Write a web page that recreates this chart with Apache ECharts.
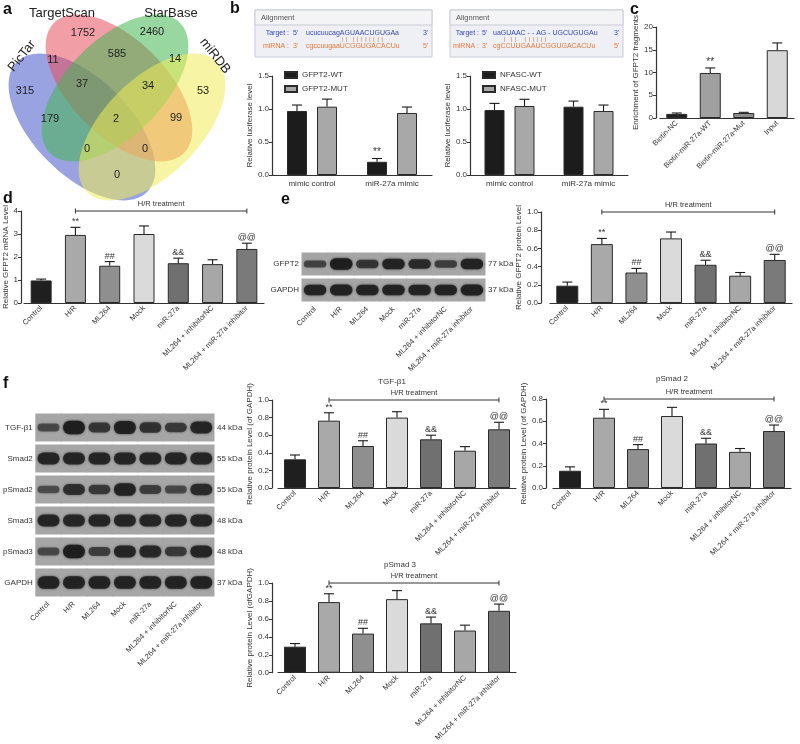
<!DOCTYPE html>
<html><head><meta charset="utf-8">
<script src="https://cdn.jsdelivr.net/npm/echarts@6/dist/echarts.min.js"></script>
<style>html,body{margin:0;padding:0;background:#fff}#c{width:800px;height:744px}</style>
</head><body><div id="c"></div>
<script>
// ---------------- DATA ----------------
const vennSetNames = ['PicTar', 'TargetScan', 'StarBase', 'miRDB'];
const vennCounts = [315, 1752, 2460, 53, 11, 585, 14, 37, 34, 179, 2, 99, 0, 0, 0];

const align1Target = 'ucucuucagAGUAACUGUGAa';
const align1Mirna = 'cgccuugaaUCGGUGACACUu';
const align2Target = 'uaGUAAC - - AG - UGCUGUGAu';
const align2Mirna = 'cgCCUUGAAUCGGUGACACUu';

const lucCats = ['mimic control', 'miR-27a mimic'];
const gfpt2WT = [0.97, 0.20];
const gfpt2WTErr = [1.06, 0.25];
const gfpt2MUT = [1.035, 0.94];
const gfpt2MUTErr = [1.15, 1.03];
const nfascWT = [0.985, 1.035];
const nfascWTErr = [1.085, 1.12];
const nfascMUT = [1.045, 0.97];
const nfascMUTErr = [1.147, 1.06];
const lucMarksWT = ['', '**'];

const pullCats = ['Biotin-NC', 'Biotin-miR-27a-WT', 'Biotin-miR-27a-Mut', 'Input'];
const pullVals = [0.9, 9.9, 1.1, 14.9];
const pullErr = [1.1, 11.0, 1.25, 16.5];
const pullMarks = ['', '**', '', ''];

const groups = ['Control', 'H/R', 'ML264', 'Mock', 'miR-27a', 'ML264 + inhibitorNC', 'ML264 + miR-27a inhibitor'];
const groupMarks = ['', '**', '##', '', '&&', '', '@@'];
const mrnaVals = [0.98, 2.96, 1.62, 3.0, 1.73, 1.69, 2.35];
const mrnaErr = [1.04, 3.29, 1.8, 3.35, 1.95, 1.88, 2.6];
const gfpt2Prot = [0.19, 0.647, 0.335, 0.71, 0.42, 0.30, 0.473];
const gfpt2ProtErr = [0.23, 0.71, 0.38, 0.78, 0.47, 0.335, 0.535];
const tgfVals = [0.326, 0.765, 0.477, 0.80, 0.553, 0.424, 0.667];
const tgfErr = [0.375, 0.855, 0.537, 0.867, 0.60, 0.47, 0.747];
const pSmad2Vals = [0.155, 0.632, 0.35, 0.647, 0.40, 0.325, 0.512];
const pSmad2Err = [0.19, 0.707, 0.39, 0.725, 0.447, 0.355, 0.566];
const pSmad3Vals = [0.29, 0.787, 0.436, 0.82, 0.55, 0.47, 0.69];
const pSmad3Err = [0.325, 0.88, 0.495, 0.915, 0.62, 0.53, 0.765];

const eBlotRows = ['GFPT2', 'GAPDH'];
const eBlotKDa = ['77 kDa', '37 kDa'];
const eGfpt2Bands = [0.45, 1.0, 0.6, 0.9, 0.75, 0.5, 0.9];
const eGapdhBands = [0.9, 0.92, 0.9, 0.9, 0.88, 0.9, 0.92];

const fBlotRows = ['TGF-β1', 'Smad2', 'pSmad2', 'Smad3', 'pSmad3', 'GAPDH'];
const fBlotKDa = ['44 kDa', '55 kDa', '55 kDa', '48 kDa', '48 kDa', '37 kDa'];
const fTgfBands = [0.4, 1.0, 0.6, 0.95, 0.65, 0.55, 0.85];
const fSmad2Bands = [0.85, 0.85, 0.85, 0.85, 0.85, 0.85, 0.85];
const fPSmad2Bands = [0.35, 0.7, 0.55, 0.9, 0.5, 0.4, 0.75];
const fSmad3Bands = [0.85, 0.82, 0.85, 0.85, 0.85, 0.85, 0.85];
const fPSmad3Bands = [0.4, 1.0, 0.5, 0.85, 0.8, 0.55, 0.85];
const fGapdhBands = [0.9, 0.9, 0.9, 0.9, 0.9, 0.9, 0.9];

// ---------------- STYLE / LAYOUT ----------------
const FONT = '"Liberation Sans", Arial, Helvetica, sans-serif';
const groupColors = ['#1f1f1f', '#a9a9a9', '#8f8f8f', '#dadada', '#707070', '#a7a7a7', '#7a7a7a'];
const pullColors = ['#1f1f1f', '#a0a0a0', '#8c8c8c', '#d8d8d8'];
const AX = '#333';

const grids = [], xAxes = [], yAxes = [], series = [], graphics = [];

function addGrid(pos) { grids.push(Object.assign({ containLabel: false }, pos)); return grids.length - 1; }

function valueChart(pos, cats, o) {
  const gi = addGrid(pos);
  xAxes.push({
    type: 'category', gridIndex: gi, data: cats,
    axisLine: { lineStyle: { color: AX, width: 1.2 } },
    axisTick: { alignWithLabel: true, length: 3, lineStyle: { color: AX, width: 1 } },
    axisLabel: { interval: 0, rotate: o.rotate || 0, fontSize: o.xFont || 7.5, color: AX, margin: o.xMargin || 4, fontFamily: FONT }
  });
  const yi = yAxes.length;
  yAxes.push({
    type: 'value', gridIndex: gi, min: o.min, max: o.max, interval: o.interval, offset: o.offset || 0,
    name: o.name, nameLocation: 'middle', nameGap: o.nameGap || 17, nameRotate: 90,
    nameTextStyle: { fontSize: 8, color: AX, fontFamily: FONT },
    axisLine: { show: true, lineStyle: { color: AX, width: 1.2 } },
    axisTick: { show: true, length: 3, lineStyle: { color: AX } },
    splitLine: { show: false },
    axisLabel: { fontSize: 8, color: AX, margin: 3, fontFamily: FONT, formatter: o.fmt }
  });
  return { xi: xAxes.length - 1, yi: yi };
}

function barSeries(ax, vals, colors, width, name) {
  return {
    type: 'bar', name: name, xAxisIndex: ax.xi, yAxisIndex: ax.yi, silent: true, animation: false,
    barWidth: width, barGap: '50%',
    itemStyle: { borderColor: '#2a2a2a', borderWidth: 1 },
    data: vals.map((v, i) => colors ? { value: v, itemStyle: { color: colors[i] } } : v)
  };
}

function errSeries(ax, vals, errs, marks, dx, capW, markSize) {
  return {
    type: 'custom', xAxisIndex: ax.xi, yAxisIndex: ax.yi, z: 10, silent: true, animation: false,
    data: vals.map((v, i) => [i, v, errs[i]]), encode: { x: 0, y: [1, 2] },
    renderItem: (p, api) => {
      const i = api.value(0);
      const a = api.coord([i, api.value(1)]), b = api.coord([i, api.value(2)]);
      const x = a[0] + (dx || 0);
      const ls = { stroke: '#1a1a1a', lineWidth: 1.1 };
      const ch = [
        { type: 'line', shape: { x1: x, y1: a[1], x2: x, y2: b[1] }, style: ls },
        { type: 'line', shape: { x1: x - capW / 2, y1: b[1], x2: x + capW / 2, y2: b[1] }, style: ls }
      ];
      const m = marks && marks[p.dataIndex];
      if (m) ch.push({ type: 'text', x: x, y: b[1] - 1, style: { text: m, fill: '#333', fontSize: markSize || 9, fontFamily: FONT, align: 'center', verticalAlign: 'bottom' } });
      return { type: 'group', children: ch };
    }
  };
}

function hrSeries(ax, yv, from, to) {
  return {
    type: 'custom', xAxisIndex: ax.xi, yAxisIndex: ax.yi, z: 10, silent: true, animation: false,
    data: [[from, yv, to]], encode: { x: [0, 2], y: 1 },
    renderItem: (p, api) => {
      const a = api.coord([api.value(0), api.value(1)]), b = api.coord([api.value(2), api.value(1)]);
      const ls = { stroke: '#333', lineWidth: 1 };
      return { type: 'group', children: [
        { type: 'line', shape: { x1: a[0], y1: a[1], x2: b[0], y2: b[1] }, style: ls },
        { type: 'line', shape: { x1: a[0], y1: a[1] - 2.5, x2: a[0], y2: a[1] + 2.5 }, style: ls },
        { type: 'line', shape: { x1: b[0], y1: b[1] - 2.5, x2: b[0], y2: b[1] + 2.5 }, style: ls },
        { type: 'text', x: (a[0] + b[0]) / 2, y: a[1] - 3, style: { text: 'H/R treatment', fill: '#333', fontSize: 7.5, fontFamily: FONT, align: 'center', verticalAlign: 'bottom' } }
      ] };
    }
  };
}

function blot(pos, rows, kda, bands) {
  const gi = addGrid(pos);
  xAxes.push({
    type: 'category', gridIndex: gi, data: groups,
    axisLine: { show: false }, axisTick: { show: false },
    axisLabel: { interval: 0, rotate: 45, fontSize: 7.5, color: AX, margin: 5, fontFamily: FONT }
  });
  const xi = xAxes.length - 1;
  yAxes.push({ type: 'category', gridIndex: gi, data: rows, inverse: true, axisLine: { show: false }, axisTick: { show: false },
    axisLabel: { fontSize: 8, color: AX, margin: 3, fontFamily: FONT } });
  const yi = yAxes.length - 1;
  yAxes.push({ type: 'category', gridIndex: gi, data: kda, inverse: true, position: 'right', axisLine: { show: false }, axisTick: { show: false },
    axisLabel: { fontSize: 8, color: AX, margin: 3, fontFamily: FONT } });
  const data = [];
  bands.forEach((arr, r) => arr.forEach((v, l) => data.push([l, r, v])));
  series.push({
    type: 'custom', xAxisIndex: xi, yAxisIndex: yi, silent: true, animation: false,
    data: data, encode: { x: 0, y: 1 },
    renderItem: (p, api) => {
      const c = api.coord([api.value(0), api.value(1)]);
      const s = api.size([1, 1]);
      const w = s[0], h = s[1], v = api.value(2);
      const gap = 3;
      const bh = h * (0.14 + 0.3 * v), bw = w * 0.86;
      return { type: 'group', children: [
        { type: 'rect', shape: { x: c[0] - w / 2 - 0.5, y: c[1] - h / 2 + gap / 2, width: w + 1, height: h - gap }, style: { fill: '#a6a6a6' } },
        { type: 'rect', shape: { x: c[0] - bw / 2, y: c[1] - bh / 2, width: bw, height: bh, r: bh / 2 },
          style: { fill: 'rgba(30,30,30,' + (0.35 + 0.6 * v).toFixed(2) + ')', shadowBlur: 2.5, shadowColor: 'rgba(30,30,30,' + (0.3 + 0.6 * v).toFixed(2) + ')' } }
      ] };
    }
  });
}

const f1 = v => v.toFixed(1);
const f0 = v => String(v);

// ---- b1 ----
let ax = valueChart({ left: 272, top: 76, width: 160, height: 99 }, lucCats, { min: 0, max: 1.5, interval: 0.5, fmt: f1, name: 'Relative luciferase level', nameGap: 16, xFont: 8, xMargin: 5 });
series.push(barSeries(ax, gfpt2WT, null, 20, 'GFPT2-WT'), barSeries(ax, gfpt2MUT, null, 20, 'GFPT2-MUT'));
series[series.length - 2].itemStyle.color = '#1c1c1c';
series[series.length - 1].itemStyle.color = '#a8a8a8';
series.push(errSeries(ax, gfpt2WT, gfpt2WTErr, lucMarksWT, -15, 10, 10), errSeries(ax, gfpt2MUT, gfpt2MUTErr, null, 15, 10));
// ---- b2 ----
ax = valueChart({ left: 470, top: 76, width: 158, height: 99 }, lucCats, { min: 0, max: 1.5, interval: 0.5, fmt: f1, name: 'Relative luciferase level', nameGap: 16, xFont: 8, xMargin: 5 });
series.push(barSeries(ax, nfascWT, null, 20, 'NFASC-WT'), barSeries(ax, nfascMUT, null, 20, 'NFASC-MUT'));
series[series.length - 2].itemStyle.color = '#1c1c1c';
series[series.length - 1].itemStyle.color = '#a8a8a8';
series.push(errSeries(ax, nfascWT, nfascWTErr, null, -15, 10), errSeries(ax, nfascMUT, nfascMUTErr, null, 15, 10));
// ---- c ----
ax = valueChart({ left: 660, top: 27, width: 134, height: 91 }, pullCats, { min: 0, max: 20, interval: 5, fmt: f0, name: 'Enrichment of GFPT2 fragments', nameGap: 15, rotate: 45, offset: 4 });
series.push(barSeries(ax, pullVals, pullColors, 21), errSeries(ax, pullVals, pullErr, pullMarks, 0, 10, 10));
// ---- d ----
ax = valueChart({ left: 24, top: 211, width: 240, height: 92 }, groups, { min: 0, max: 4, interval: 1, fmt: f0, name: 'Relative GFPT2 mRNA Level', nameGap: 11, rotate: 45, offset: 3 });
series.push(barSeries(ax, mrnaVals, groupColors, 21), errSeries(ax, mrnaVals, mrnaErr, groupMarks, 0, 10), hrSeries(ax, 4, 1, 6));
// ---- e chart ----
ax = valueChart({ left: 550, top: 212, width: 242, height: 91 }, groups, { min: 0, max: 1.0, interval: 0.2, fmt: f1, name: 'Relative GFPT2 protein Level', nameGap: 16, rotate: 45, offset: 9 });
series.push(barSeries(ax, gfpt2Prot, groupColors, 22), errSeries(ax, gfpt2Prot, gfpt2ProtErr, groupMarks, 0, 10), hrSeries(ax, 1.0, 1, 6));
// ---- TGF ----
ax = valueChart({ left: 278, top: 400, width: 238, height: 88 }, groups, { min: 0, max: 1.0, interval: 0.2, fmt: f1, name: 'Relative protein Level (of GAPDH)', nameGap: 16, rotate: 45, offset: 6 });
series.push(barSeries(ax, tgfVals, groupColors, 22), errSeries(ax, tgfVals, tgfErr, groupMarks, 0, 10), hrSeries(ax, 1.0, 1, 6));
// ---- pSmad2 ----
ax = valueChart({ left: 553, top: 399, width: 238, height: 89 }, groups, { min: 0, max: 0.8, interval: 0.2, fmt: f1, name: 'Relative protein Level (of GAPDH)', nameGap: 16, rotate: 45, offset: 7 });
series.push(barSeries(ax, pSmad2Vals, groupColors, 22), errSeries(ax, pSmad2Vals, pSmad2Err, groupMarks, 0, 10), hrSeries(ax, 0.8, 1, 6));
// ---- pSmad3 ----
ax = valueChart({ left: 278, top: 583, width: 238, height: 91 }, groups, { min: 0, max: 1.0, interval: 0.2, fmt: f1, name: 'Relative protein Level (ofGAPDH)', nameGap: 16, rotate: 45, offset: 6 });
series.push(barSeries(ax, pSmad3Vals, groupColors, 22), errSeries(ax, pSmad3Vals, pSmad3Err, groupMarks, 0, 10), hrSeries(ax, 1.0, 1, 6));

// ---- blots ----
blot({ left: 302, top: 251, width: 183, height: 52 }, eBlotRows, eBlotKDa, [eGfpt2Bands, eGapdhBands]);
blot({ left: 28, top: 412, width: 186, height: 186 }, fBlotRows, fBlotKDa, [fTgfBands, fSmad2Bands, fPSmad2Bands, fSmad3Bands, fPSmad3Bands, fGapdhBands]);

// ---- Venn (graphic) ----
const vennShapes = [
  { x: 82, y: 127, rot: -Math.PI / 4, fill: 'rgba(70,88,200,0.55)' },
  { x: 119, y: 88, rot: -Math.PI / 4, fill: 'rgba(232,78,95,0.55)' },
  { x: 115, y: 88, rot: Math.PI / 4, fill: 'rgba(68,182,82,0.55)' },
  { x: 152, y: 127, rot: Math.PI / 4, fill: 'rgba(240,236,88,0.55)' }
];
vennShapes.forEach(s => graphics.push({ type: 'ellipse', x: s.x, y: s.y, rotation: s.rot, silent: true,
  shape: { cx: 0, cy: 0, rx: 92, ry: 48 }, style: { fill: s.fill, stroke: 'none' } }));
const vennNamePos = [[22, 56, 0.9], [62, 13, 0], [171, 13, 0], [215, 56, -0.9]];
vennSetNames.forEach((n, i) => graphics.push({ type: 'text', x: vennNamePos[i][0], y: vennNamePos[i][1], rotation: vennNamePos[i][2], silent: true,
  style: { text: n, fontSize: 13, fontFamily: FONT, fill: '#222', align: 'center', verticalAlign: 'middle' } }));
const vennCountPos = [[25, 91], [83, 33], [152, 32], [203, 91], [53, 60], [117, 54], [175, 59], [82, 84], [148, 86], [50, 119], [116, 119], [176, 118], [87, 149], [145, 149], [117, 175]];
vennCounts.forEach((n, i) => graphics.push({ type: 'text', x: vennCountPos[i][0], y: vennCountPos[i][1], silent: true,
  style: { text: String(n), fontSize: 11, fontFamily: FONT, fill: '#222', align: 'center', verticalAlign: 'middle' } }));

// ---- alignment boxes ----
function alignBox(x0, w, tgt, mir, bars, cols) {
  graphics.push({ type: 'rect', silent: true, shape: { x: x0, y: 10, width: w, height: 47 }, style: { fill: '#eef0f5', stroke: '#c9ccd6', lineWidth: 1 } });
  graphics.push({ type: 'rect', silent: true, shape: { x: x0, y: 10, width: w, height: 15 }, style: { fill: '#f4f4f6', stroke: '#c9ccd6', lineWidth: 1 } });
  graphics.push({ type: 'text', silent: true, x: x0 + 6, y: 18, style: { text: 'Alignment', fontSize: 7.5, fill: '#555', fontFamily: FONT, verticalAlign: 'middle' } });
  const rows = [[33, 'Target :', "5'", tgt, "3'", '#3646b0'], [46, 'miRNA :', "3'", mir, "5'", '#e5773a']];
  rows.forEach(r => {
    graphics.push({ type: 'text', silent: true, x: x0 + cols[0], y: r[0], style: { text: r[1], fontSize: 7, fill: r[5], fontFamily: FONT, align: 'right', verticalAlign: 'middle' } });
    graphics.push({ type: 'text', silent: true, x: x0 + cols[1], y: r[0], style: { text: r[2], fontSize: 7, fill: r[5], fontFamily: FONT, verticalAlign: 'middle' } });
    graphics.push({ type: 'text', silent: true, x: x0 + cols[2], y: r[0], style: { text: r[3], fontSize: 7, fill: r[5], fontFamily: FONT, verticalAlign: 'middle' } });
    graphics.push({ type: 'text', silent: true, x: x0 + w - 9, y: r[0], style: { text: r[4], fontSize: 7, fill: r[5], fontFamily: FONT, verticalAlign: 'middle' } });
  });
  graphics.push({ type: 'text', silent: true, x: x0 + cols[3], y: 39.5, style: { text: bars, fontSize: 5, fill: '#b5651d', fontFamily: FONT, verticalAlign: 'middle' } });
}
alignBox(255, 177, align1Target, align1Mirna, '|  |    |  |  |  |  |  |  |  |', [34, 38, 51, 87]);
alignBox(450, 173, align2Target, align2Mirna, '|    |  |      |  |  |  |  |  |', [29, 32, 43, 54]);

// ---- panel letters & titles ----
[['a', 3, 10], ['b', 230, 9], ['c', 630, 10], ['d', 3, 199], ['e', 281, 200], ['f', 3, 384]].forEach(t =>
  graphics.push({ type: 'text', silent: true, x: t[1], y: t[2], style: { text: t[0], fontSize: 16, fontWeight: 'bold', fill: '#111', fontFamily: FONT, verticalAlign: 'middle' } }));
[['TGF-β1', 392, 382], ['pSmad 2', 672, 379], ['pSmad 3', 400, 565]].forEach(t =>
  graphics.push({ type: 'text', silent: true, x: t[1], y: t[2], style: { text: t[0], fontSize: 8, fill: '#333', fontFamily: FONT, align: 'center', verticalAlign: 'middle' } }));

const legendBase = { orient: 'vertical', itemWidth: 12, itemHeight: 6, itemGap: 6, icon: 'rect', selectedMode: false,
  textStyle: { fontSize: 8, color: '#333', fontFamily: FONT } };

const chart = echarts.init(document.getElementById('c'));
chart.setOption({
  animation: false,
  backgroundColor: '#fff',
  textStyle: { fontFamily: FONT },
  grid: grids, xAxis: xAxes, yAxis: yAxes, series: series,
  legend: [Object.assign({ left: 279, top: 66, data: ['GFPT2-WT', 'GFPT2-MUT'] }, legendBase),
           Object.assign({ left: 477, top: 66, data: ['NFASC-WT', 'NFASC-MUT'] }, legendBase)],
  graphic: graphics
});
</script></body></html>
